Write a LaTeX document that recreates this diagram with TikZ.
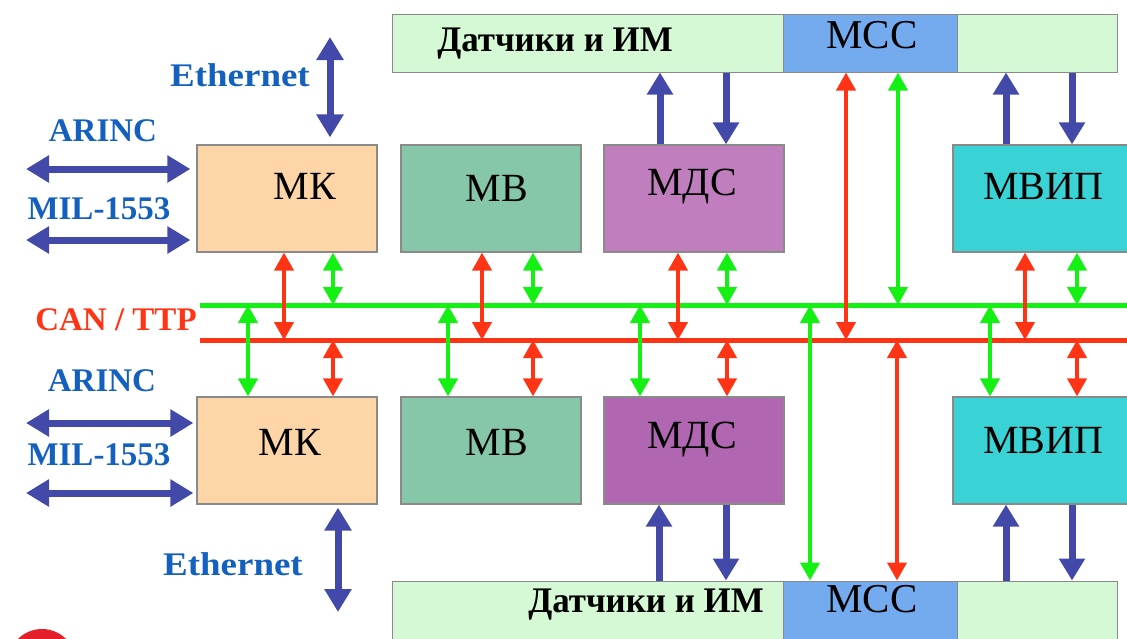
\documentclass[tikz,border=0pt]{standalone}
\usepackage{fontspec}
\usepackage{graphicx}
\setmainfont{Liberation Serif}
\usetikzlibrary{arrows.meta,calc}

\definecolor{peach}{HTML}{FDD5A7}
\definecolor{mbcol}{HTML}{86C7A9}
\definecolor{mdsA}{HTML}{C17EBE}
\definecolor{mdsB}{HTML}{B066B0}
\definecolor{mvipcol}{HTML}{39D3D5}
\definecolor{senscol}{HTML}{D4F9D4}
\definecolor{msscol}{HTML}{74AAEE}
\definecolor{edgecol}{HTML}{8A8A8A}
\definecolor{arrblue}{HTML}{4349A8}
\definecolor{txtblue}{HTML}{1460BE}
\definecolor{busred}{HTML}{FF3414}
\definecolor{busgreen}{HTML}{14F014}
\definecolor{dotred}{HTML}{E3202A}

\tikzset{
  modbox/.style={draw=edgecol,line width=1.2pt,minimum width=180pt,minimum height=107pt,inner sep=0pt},
  modlabel/.style={font=\fontsize{40}{40}\selectfont},
  barbox/.style={draw=edgecol,line width=1pt,inner sep=0pt,minimum height=58pt},
  barlabel/.style={font=\bfseries\fontsize{36}{36}\selectfont},
  sideLabel/.style={font=\bfseries\fontsize{33}{33}\selectfont,text=txtblue},
  blueline/.style={line width=7pt,color=arrblue},
  bluetwo/.style={blueline,arrows={Triangle[width=26pt,length=23pt]-Triangle[width=26pt,length=23pt]}},
  blueone/.style={blueline,arrows={-Triangle[width=25pt,length=22pt]}},
  redtwo/.style={line width=4pt,color=busred,arrows={Triangle[width=19pt,length=18pt]-Triangle[width=19pt,length=18pt]}},
  greentwo/.style={line width=4pt,color=busgreen,arrows={Triangle[width=19pt,length=18pt]-Triangle[width=19pt,length=18pt]}},
  busline/.style={line width=5pt}
}

\begin{document}
\begin{tikzpicture}[x=1pt,y=-1pt]
\useasboundingbox (0,0) rectangle (1127,638);

% partly visible red disc in the lower left corner
\begin{scope}
  \clip (0,0) rectangle (1127,638);
  \fill[dotred] (42,663) circle (34);
\end{scope}

% sensor / actuator bars with the МСС sections
\node[barbox,fill=senscol,minimum width=725pt] (sens1) at (754.5,43) {};
\node[barbox,fill=msscol,minimum width=174pt] (mss1) at (870,43) {};
\node[font=\fontsize{41}{41}\selectfont] at (872,35) {МСС};
\node[barlabel] at (555,44) {\scalebox{0.97}[1]{Датчики и ИМ}};

\node[barbox,fill=senscol,minimum width=725pt] (sens2) at (754.5,610) {};
\node[barbox,fill=msscol,minimum width=174pt] (mss2) at (870,610) {};
\node[font=\fontsize{41}{41}\selectfont] at (872,599) {МСС};
\node[barlabel] at (646,605) {\scalebox{0.97}[1]{Датчики и ИМ}};

% upper row of modules
\node[modbox,fill=peach] (mk1) at (287,198.5) {};
\node[modbox,fill=mbcol] (mb1) at (491,198.5) {};
\node[modbox,fill=mdsA] (mds1) at (694,198.5) {};
\node[modbox,fill=mvipcol] (mvip1) at (1043,198.5) {};
\node[modlabel] at (305,186) {МК};
\node[modlabel] at (497,188) {МВ};
\node[modlabel] at (692,187) {МДС};
\node[modlabel] at (1043,186) {МВИП};

% lower row of modules
\node[modbox,fill=peach] (mk2) at (287,450.5) {};
\node[modbox,fill=mbcol] (mb2) at (491,450.5) {};
\node[modbox,fill=mdsB] (mds2) at (694,450.5) {};
\node[modbox,fill=mvipcol] (mvip2) at (1043,450.5) {};
\node[modlabel] at (290,442) {МК};
\node[modlabel] at (497,442) {МВ};
\node[modlabel] at (692,440) {МДС};
\node[modlabel] at (1043,440) {МВИП};

% CAN / TTP buses
\coordinate (gL) at (200,305);
\coordinate (gR) at (1127,305);
\coordinate (rL) at (200,340);
\coordinate (rR) at (1127,340);
\draw[busline,busgreen] (gL) -- (gR);
\draw[busline,busred] (rL) -- (rR);
\node[font=\bfseries\fontsize{33}{33}\selectfont,text=busred] (can) at (116,320) {CAN / TTP};

% upper modules to the buses
\draw[redtwo]   ([xshift=-3pt]mk1.south)   -- ([xshift=-3pt]mk1.south |- rL);
\draw[greentwo] ([xshift=46pt]mk1.south)   -- ([xshift=46pt]mk1.south |- gL);
\draw[redtwo]   ([xshift=-9pt]mb1.south)   -- ([xshift=-9pt]mb1.south |- rL);
\draw[greentwo] ([xshift=42pt]mb1.south)   -- ([xshift=42pt]mb1.south |- gL);
\draw[redtwo]   ([xshift=-16pt]mds1.south) -- ([xshift=-16pt]mds1.south |- rL);
\draw[greentwo] ([xshift=33pt]mds1.south)  -- ([xshift=33pt]mds1.south |- gL);
\draw[redtwo]   ([xshift=-18pt]mvip1.south) -- ([xshift=-18pt]mvip1.south |- rL);
\draw[greentwo] ([xshift=34pt]mvip1.south)  -- ([xshift=34pt]mvip1.south |- gL);

% lower modules to the buses
\draw[greentwo] ([xshift=-39pt]mk2.north)  -- ([xshift=-39pt]mk2.north |- gL);
\draw[redtwo]   ([xshift=46pt]mk2.north)   -- ([xshift=46pt]mk2.north |- rL);
\draw[greentwo] ([xshift=-43pt]mb2.north)  -- ([xshift=-43pt]mb2.north |- gL);
\draw[redtwo]   ([xshift=42pt]mb2.north)   -- ([xshift=42pt]mb2.north |- rL);
\draw[greentwo] ([xshift=-54pt]mds2.north) -- ([xshift=-54pt]mds2.north |- gL);
\draw[redtwo]   ([xshift=33pt]mds2.north)  -- ([xshift=33pt]mds2.north |- rL);
\draw[greentwo] ([xshift=-53pt]mvip2.north) -- ([xshift=-53pt]mvip2.north |- gL);
\draw[redtwo]   ([xshift=34pt]mvip2.north)  -- ([xshift=34pt]mvip2.north |- rL);

% МСС to the buses
\draw[redtwo]   ([xshift=-24pt]mss1.south) -- ([xshift=-24pt]mss1.south |- rL);
\draw[greentwo] ([xshift=28pt]mss1.south)  -- ([xshift=28pt]mss1.south |- gL);
\draw[greentwo] ([xshift=-60pt]mss2.north) -- ([xshift=-60pt]mss2.north |- gL);
\draw[redtwo]   ([xshift=27pt]mss2.north)  -- ([xshift=27pt]mss2.north |- rL);

% sensor links of МДС and МВИП
\draw[blueone] ([xshift=-34pt]mds1.north) -- ([xshift=-34pt]mds1.north |- sens1.south);
\draw[blueone] ([xshift=32pt]mds1.north |- sens1.south) -- ([xshift=32pt]mds1.north);
\draw[blueone] ([xshift=-37pt]mvip1.north) -- ([xshift=-37pt]mvip1.north |- sens1.south);
\draw[blueone] ([xshift=29pt]mvip1.north |- sens1.south) -- ([xshift=29pt]mvip1.north);

\draw[blueone] ([xshift=-35pt]mds2.south |- sens2.north) -- ([xshift=-35pt]mds2.south);
\draw[blueone] ([xshift=32pt]mds2.south) -- ([xshift=32pt]mds2.south |- sens2.north);
\draw[blueone] ([xshift=-37pt]mvip2.south |- sens2.north) -- ([xshift=-37pt]mvip2.south);
\draw[blueone] ([xshift=29pt]mvip2.south) -- ([xshift=29pt]mvip2.south |- sens2.north);

% external interfaces of the upper МК
\coordinate (eth1) at (330,37);
\coordinate (ar1) at (26,169);
\coordinate (mil1) at (26,240);
\draw[bluetwo] (eth1) -- ([xshift=43pt,yshift=7pt]mk1.north);
\draw[bluetwo] (ar1) -- ([xshift=-6pt]mk1.west |- ar1);
\draw[bluetwo] (mil1) -- ([xshift=-6pt]mk1.west |- mil1);
\node[sideLabel] at (240,75) {\scalebox{1.12}[1]{Ethernet}};
\node[sideLabel] at (103,131) {ARINC};
\node[sideLabel] at (99,209) {MIL-1553};

% external interfaces of the lower МК
\coordinate (eth2) at (338,612);
\coordinate (ar2) at (26,423);
\coordinate (mil2) at (26,493);
\draw[bluetwo] ([xshift=51pt,yshift=-3pt]mk2.south) -- (eth2);
\draw[bluetwo] (ar2) -- ([xshift=-3pt]mk2.west |- ar2);
\draw[bluetwo] (mil2) -- ([xshift=-3pt]mk2.west |- mil2);
\node[sideLabel] at (233,564) {\scalebox{1.12}[1]{Ethernet}};
\node[sideLabel] at (102,381) {ARINC};
\node[sideLabel] at (99,455) {MIL-1553};
\end{tikzpicture}
\end{document}
